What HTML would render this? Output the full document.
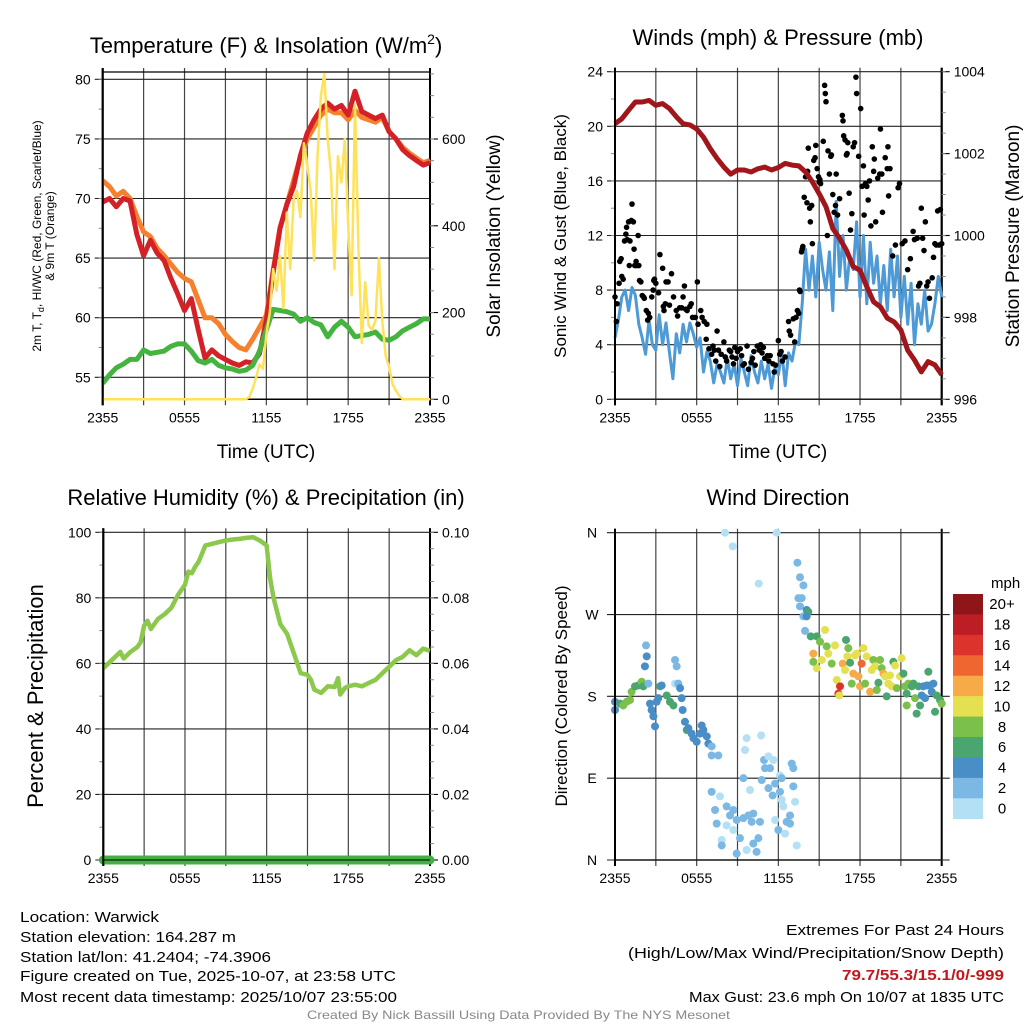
<!DOCTYPE html>
<html><head><meta charset="utf-8"><style>
html,body{margin:0;padding:0;background:#fff;}
svg{display:block;font-family:"Liberation Sans",sans-serif;}
</style></head><body>
<svg id="c" width="1024" height="1024" viewBox="0 0 1024 1024" xmlns="http://www.w3.org/2000/svg">
<g id="static" fill="#000">
<text x="266" y="53" font-size="22" text-anchor="middle">Temperature (F) &amp; Insolation (W/m<tspan font-size="14" dy="-9">2</tspan><tspan dy="9">)</tspan></text>
<text x="778" y="45" font-size="22" text-anchor="middle">Winds (mph) &amp; Pressure (mb)</text>
<text x="266" y="505" font-size="22" text-anchor="middle">Relative Humidity (%) &amp; Precipitation (in)</text>
<text x="778" y="505" font-size="22" text-anchor="middle">Wind Direction</text>
<text x="266" y="458" font-size="19" text-anchor="middle">Time (UTC)</text>
<text x="778" y="458" font-size="19" text-anchor="middle">Time (UTC)</text>
<text transform="translate(41,236) rotate(-90)" font-size="12" text-anchor="middle">2m T, T<tspan font-size="9" dy="3">d</tspan><tspan dy="-3">, HI/WC (Red, Green, Scarlet/Blue)</tspan></text>
<text transform="translate(54,236) rotate(-90)" font-size="12" text-anchor="middle">&amp; 9m T (Orange)</text>
<text transform="translate(500,236) rotate(-90)" font-size="19" text-anchor="middle">Solar Insolation (Yellow)</text>
<text transform="translate(566,236) rotate(-90)" font-size="17" text-anchor="middle">Sonic Wind &amp; Gust (Blue, Black)</text>
<text transform="translate(1019,236) rotate(-90)" font-size="19" text-anchor="middle">Station Pressure (Maroon)</text>
<text transform="translate(43,696) rotate(-90)" font-size="22" text-anchor="middle">Percent &amp; Precipitation</text>
<text transform="translate(567,696) rotate(-90)" font-size="17" text-anchor="middle">Direction (Colored By Speed)</text>
<text x="991" y="588" font-size="15">mph</text>
<g font-size="15">
<text x="20" y="922" textLength="139" lengthAdjust="spacingAndGlyphs">Location: Warwick</text>
<text x="20" y="942" textLength="216" lengthAdjust="spacingAndGlyphs">Station elevation: 164.287 m</text>
<text x="20" y="962" textLength="251" lengthAdjust="spacingAndGlyphs">Station lat/lon: 41.2404; -74.3906</text>
<text x="20" y="981" textLength="376" lengthAdjust="spacingAndGlyphs">Figure created on Tue, 2025-10-07, at 23:58 UTC</text>
<text x="20" y="1002" textLength="377" lengthAdjust="spacingAndGlyphs">Most recent data timestamp: 2025/10/07 23:55:00</text>
<text x="786" y="935" textLength="218" lengthAdjust="spacingAndGlyphs">Extremes For Past 24 Hours</text>
<text x="628" y="958" textLength="376" lengthAdjust="spacingAndGlyphs">(High/Low/Max Wind/Precipitation/Snow Depth)</text>
<text x="842" y="980" textLength="162" lengthAdjust="spacingAndGlyphs" fill="#c4161c" font-weight="bold">79.7/55.3/15.1/0/-999</text>
<text x="689" y="1002" textLength="315" lengthAdjust="spacingAndGlyphs">Max Gust: 23.6 mph On 10/07 at 1835 UTC</text>
</g>
<text x="307" y="1019" font-size="12" fill="#888" textLength="423" lengthAdjust="spacingAndGlyphs">Created By Nick Bassill Using Data Provided By The NYS Mesonet</text>
</g>
</svg>
<script>
// ---------- data ----------
const timeLabels = ["2355","0555","1155","1755","2355"];
const tempHours = [0,0.5,1,1.5,2,2.5,3,3.5,4,4.5,5,5.5,6,6.5,7,7.5,8,8.5,9,9.5,10,10.5,11,11.5,12,12.5,13,13.5,14,14.5,15,15.5,16,16.5,17,17.5,18,18.5,19,19.5,20,20.5,21,21.5,22,22.5,23,23.5,24];
const temp2m = [69.7,70,69.3,70,69.8,67,65.2,66.5,65.4,64.8,63.3,62,60.6,61.6,59,56.6,57.3,56.8,56.5,56.2,56,56.3,56.2,57,59.8,63.8,67.5,69.5,71,73.6,75.5,76.6,77.5,78,77.5,77.8,77,79,77.3,77,76.7,77,75.6,75,74.1,73.6,73.2,72.8,73];
const temp9m = [71.5,71,70.2,70.6,70,68.5,67.2,66.8,65.8,65.2,64.5,63.8,63.3,63,61.5,60,60,59.5,58.6,58,57.5,57.3,58.2,59.2,60.2,64,67.5,69.5,71.5,73.5,75,76,77,77.5,77.2,77.2,76.6,77.4,76.8,76.6,76.4,76.8,75.6,75,74.3,73.8,73.4,73,73.2];
const dewpoint = [54.5,55.2,55.8,56.1,56.5,56.5,57.3,57,57.1,57.2,57.6,57.8,57.8,57.2,56.4,56.2,56.5,56,55.8,55.7,55.5,55.6,56,57.2,59,60.7,60.6,60.5,60.3,59.7,60,59.6,59.4,58.4,59.2,59.7,59.2,58.4,58.5,58.6,58.8,58.2,58.1,58.4,58.9,59.2,59.5,59.9,59.9];
const solarHours = [0,10.5,10.75,11,11.25,11.5,11.75,12,12.25,12.5,12.75,13,13.25,13.5,13.75,14,14.25,14.5,14.75,15,15.25,15.5,15.75,16,16.25,16.5,16.75,17,17.25,17.5,17.75,18,18.25,18.5,18.75,19,19.25,19.5,19.75,20,20.25,20.5,20.75,21,21.25,21.5,21.75,22,24];
const solar = [0,0,5,25,50,80,70,150,200,300,250,330,210,430,300,460,480,420,590,540,480,320,560,700,750,600,520,300,560,500,600,400,240,680,350,130,270,170,160,180,325,180,100,75,35,20,8,0,0];
const pressure = [1002.73,1002.85,1003.06,1003.26,1003.26,1003.3,1003.18,1003.22,1003.1,1002.9,1002.73,1002.7,1002.6,1002.4,1002.12,1001.88,1001.67,1001.5,1001.6,1001.6,1001.55,1001.63,1001.67,1001.6,1001.66,1001.76,1001.72,1001.7,1001.55,1001.31,1001.02,1000.7,1000.17,999.93,999.64,999.24,999.15,998.75,998.38,998.26,997.98,997.89,997.69,997.2,996.96,996.67,996.92,996.84,996.6];
const sustained = [4.5,5.8,7.5,8.0,6.5,8.2,7.6,5.5,4.5,
3.3,5.8,4.0,3.6,6.2,4.0,5.6,3.4,
1.5,4.8,3.4,5.5,4.2,5.6,4.8,3.8,
4.5,2.0,3.5,2.8,1.2,2.6,2.0,1.2,
3.0,1.5,2.6,1.0,3.0,2.0,1.0,3.2,
2.0,1.2,2.8,1.5,2.6,0.8,2.3,1.8,
3.5,1.0,3.4,2.8,4.2,4.0,7.0,11.0,
8.0,10.5,7.5,11.5,9.5,8.0,10.8,6.5,
14.5,9.0,12.0,8.0,10.5,9.5,13.0,7.5,
12.0,7.0,11.5,8.5,10.5,7.0,9.8,6.5,
11.0,7.5,10.5,6.0,9.0,5.5,8.5,4.0,
7.0,5.5,8.0,5.0,5.5,7.0,9.0,7.5];
const gustHours = [0,0.1,0.15,0.3,0.35,0.45,0.5,0.6,0.7,0.8,0.85,0.9,1,1.1,1.05,1.2,1.25,1.35,1.4,1.45,1.55,1.6,1.7,1.75,1.8,1.9,2,2.1,2.15,2.3,2.4,2.45,2.55,2.7,2.8,2.85,2.9,3,3.2,3.3,3.5,3.55,3.6,3.7,3.75,3.9,4,4.15,4.3,4.5,4.6,4.75,4.9,5,5.1,5.2,5.3,5.5,5.6,5.7,5.9,6.05,6.1,6.3,6.4,6.55,6.7,6.75,6.9,7.1,7.2,7.3,7.4,7.5,7.6,7.7,7.8,8,8.1,8.2,8.4,8.5,8.6,8.7,8.8,8.9,9,9.2,9.3,9.4,9.5,9.7,9.8,10,10.1,10.2,10.3,10.45,10.6,10.7,10.8,10.9,11,11.2,11.3,11.4,11.6,11.7,11.8,12,12.1,12.2,12.3,12.5,12.75,12.8,12.9,13.1,13.2,13.3,13.4,13.5,13.55,13.6,13.7,13.75,13.8,13.9,14,14.1,14.15,14.2,14.3,14.35,14.45,14.5,14.6,14.7,14.75,14.85,14.95,15,15.05,15.1,15.3,15.4,15.5,15.45,15.6,15.65,15.75,15.85,15.9,16,16.1,16.2,16.25,16.35,16.5,16.7,16.75,16.8,16.9,17,17.05,17.1,17.2,17.3,17.4,17.5,17.6,17.7,17.75,17.9,18.05,18.15,18.25,18.3,18.4,18.5,18.6,18.7,18.8,18.9,19,19.05,19.15,19.3,19.45,19.5,19.6,19.65,19.85,20,20.05,20.1,20.2,20.4,20.6,20.8,20.9,21.1,21.3,21.5,21.7,21.9,22,22.2,22.3,22.4,22.5,22.6,22.7,22.8,22.9,23,23.1,23.3,23.4,23.5,23.6,23.7,23.8,23.9,24];
const gustMph = [7.5,5.7,7,8.5,10.1,10.3,9,8.8,11.6,12.1,12.6,11.7,13,11.6,9.8,13.1,14.3,13,11,9.8,10.1,9.8,12,9.8,8.7,8.6,7.6,7.5,7.4,6.5,5.8,6.3,6,7.5,8,8.7,8.8,8.5,7.8,10.6,9.6,6.8,6.5,7,8.6,8.6,6.9,9.2,7.5,6.5,6.1,6.7,6.7,7.5,8.3,6.6,6.5,6.8,7,6,6,8.6,5.5,6.5,6,5.7,4.4,5.5,3.7,3.3,3.9,3.6,2.8,5,3.6,2.4,3.3,4.2,3.1,2.8,3.6,3.5,3.1,2.6,3.8,3,3.5,3.7,3.2,2.5,2.6,3.9,2.2,2.7,3,3.5,2.5,3.9,3.6,4,3.4,3.8,3,3.2,2.8,3.2,2.6,2,2.5,4.3,3.3,3.5,2.8,3.1,5.7,5,4.7,5.9,4.2,6,6.5,6.3,8,7.9,10.8,11,11.2,14.8,16.3,14.4,16.7,18.4,14,13,14.2,11.4,17.5,17.7,18.6,16.9,16.3,15.9,16.1,15.8,18.9,23,21.8,22.4,12,18.2,16.5,17.8,17.9,15,13.7,14.2,16.5,13.5,14.7,20.8,20.4,19.3,19,17.9,18,18.8,15.1,12.4,13.6,18.5,18.8,23.6,22.4,17.8,21.3,15.6,17.1,13.5,15.8,15.6,14.6,16,12.7,18.5,16.7,17.6,13,16.2,16.5,19.8,16.5,13.7,17.7,16.9,18.5,14.9,16.9,10.5,11.3,15.5,15.8,11.4,11.6,9.5,10.3,12.3,11.7,11.8,8.3,8.5,14,11.8,10.9,13,8.3,8.6,7.4,8.9,10.4,11.4,11.3,13.8,11.3,13.9,11.4];
const rhHours = [0,0.5,1,1.25,1.5,2,2.5,2.75,3,3.25,3.5,4,4.5,5,5.5,6,6.25,6.5,6.75,7,7.25,7.5,8,8.5,9,9.5,10,10.5,11,11.5,12,12.25,12.5,12.75,13,13.5,14,14.25,14.5,15,15.25,15.5,16,16.5,17,17.25,17.4,17.75,18,18.5,19,19.5,20,20.5,21,21.5,22,22.5,23,23.5,24];
const rh = [58.5,60.5,62.5,63.5,61.5,63.5,65,66.5,71.5,73,70.5,73.5,75,77,81,84,88,87.5,89.5,91,93.5,96,96.5,97,97.5,97.8,98,98.3,98.5,97.5,96,86,80,76,72,69,63,60,57,56.5,55,52,51,53,52.8,55.5,50.5,52.5,53,53.5,53,54,55,57,59,61,62,64,62.5,64.5,63.8];
const precip = [0,0];
// wind direction observations: [hour, direction deg, speed mph]
const windObs = [[0,165,5],[0,174,5],[0.37,172,7],[0.6,170,9],[0.86,174,9],[1.1,176,9],[1.22,185,9],[1.47,191,7],[1.71,192,7],[1.96,196,9],[2.08,191,7],[2.28,236,3],[2.33,224,5],[2.2,213,5],[2.45,194,3],[2.57,172,5],[2.69,165,5],[2.82,158,5],[2.94,147,5],[3.06,174,5],[3.18,178,5],[3.31,191,7],[3.43,192,5],[3.8,181,7],[4.04,174,7],[4.29,170,7],[4.41,220,3],[4.53,213,3],[4.41,194,1],[4.65,194,3],[4.78,189,5],[4.9,178,5],[4.97,165,5],[5.14,152,5],[5.27,143,7],[5.39,145,5],[5.63,139,5],[5.76,134,5],[6,130,5],[6.25,139,5],[6.37,148,5],[6.49,143,5],[6.74,136,5],[6.86,128,5],[7.1,125,3],[7.59,115,3],[7.1,115,3],[8.08,360,1],[8.65,345,1],[9.67,134,1],[9.55,121,1],[9.43,90,3],[7.1,75,3],[7.71,70,1],[7.35,55,3],[7.47,40,3],[8.2,59,3],[8.45,49,3],[8.69,55,3],[8.94,44,3],[8.2,38,1],[8.69,33,1],[9.18,24,3],[7.84,22,1],[7.84,16,3],[8.94,7,3],[9.67,11,1],[10.4,9,3],[10.16,18,3],[10.53,24,3],[9.43,46,3],[9.8,49,3],[10.16,51,3],[10.04,42,3],[10.65,42,3],[9.92,77,1],[10.56,304,1],[10.73,137,1],[10.95,110,3],[11.27,114,1],[11.02,101,3],[11.39,101,3],[11.63,110,1],[10.78,88,3],[11.27,79,3],[11.58,71,3],[11.76,84,3],[12.12,93,1],[12.25,90,3],[11.88,360,1],[12.12,75,3],[12.25,66,1],[12.37,59,1],[11.76,44,1],[12,33,3],[12.49,29,1],[12.61,42,3],[12.86,49,3],[12.86,40,3],[12.98,106,3],[13.1,101,3],[13.23,64,1],[13.1,81,3],[13.35,16,1],[13.4,327,3],[13.59,311,3],[13.84,302,3],[13.47,288,3],[13.72,288,3],[13.59,279,3],[13.84,268,3],[14.08,275,5],[14.2,273,7],[14.08,268,5],[13.96,252,3],[14.38,246,7],[14.57,227,13],[14.82,246,7],[15.06,240,9],[15.43,253,11],[15.19,220,11],[15.55,235,9],[15.67,227,11],[15.92,216,9],[16.16,236,11],[14.82,211,11],[14.57,218,9],[16.29,198,11],[16.53,191,17],[16.41,183,17],[16.48,181,11],[16.73,216,13],[16.97,242,7],[17.14,233,9],[17.07,224,11],[16.9,209,11],[17.27,217,7],[17.39,194,9],[17.51,205,13],[17.63,225,11],[17.76,227,11],[17.88,202,13],[18,191,13],[18.12,216,15],[18.25,233,11],[18.37,194,9],[18.49,224,11],[18.74,185,13],[18.86,209,11],[18.98,220,9],[19.1,213,11],[19.23,187,9],[19.35,195,7],[19.47,220,9],[19.59,211,9],[19.72,205,13],[19.84,202,11],[19.96,180,7],[20.08,194,11],[20.2,203,11],[20.33,191,11],[20.45,218,7],[20.57,214,11],[20.7,189,9],[20.94,202,11],[21.06,222,11],[21.19,205,7],[21.31,191,9],[21.43,183,7],[21.55,194,9],[21.43,170,9],[21.8,191,7],[21.92,194,7],[22.04,178,9],[22.16,161,7],[22.29,191,7],[22.41,170,7],[22.53,181,5],[22.65,191,5],[22.78,178,5],[22.9,192,5],[23.02,207,7],[23.14,192,5],[23.27,185,5],[23.39,194,5],[23.51,163,7],[23.63,181,7],[23.88,176,7],[24,172,9]];
const speedLabels = ["20+","18","16","14","12","10","8","6","4","2","0"];
const speedColors = ["#8e1518","#bd1e25","#dc342c","#ef6630","#f7ab48","#e5e04f","#7cc04c","#4aa56e","#4a8ec8","#7bb8e3","#b3e0f5"];
const tempTicks = [55,60,65,70,75,80];
const solarTicks = [0,200,400,600];
const windTicks = [0,4,8,12,16,20,24];
const pressTicks = [996,998,1000,1002,1004];
const rhTicks = [0,20,40,60,80,100];
const precipTicks = ["0.00","0.02","0.04","0.06","0.08","0.10"];
const dirTicks = ["N","E","S","W","N"];

// ---------- helpers ----------
const NS = "http://www.w3.org/2000/svg";
const svg = document.getElementById('c');
function mk(tag, attrs, parent) {
  const e = document.createElementNS(NS, tag);
  for (const k in attrs) e.setAttribute(k, attrs[k]);
  (parent || svg).appendChild(e);
  return e;
}
function linePath(xs, ys, fx, fy) {
  let d = "";
  for (let i = 0; i < Math.min(xs.length, ys.length); i++) d += (i ? "L" : "M") + fx(xs[i]).toFixed(1) + "," + fy(ys[i]).toFixed(1);
  return d;
}
const panels = {
  temp: {x0:102.7, x1:430, y0:72, y1:399.3},
  wind: {x0:615, x1:941.7, y0:71.7, y1:399.3},
  rh: {x0:103.3, x1:430, y0:532.3, y1:860},
  dir: {x0:615, x1:941.7, y0:532.7, y1:860}
};
function xScale(p) { return h => p.x0 + h / 24 * (p.x1 - p.x0); }
function lin(d0, d1, r0, r1) { return v => r0 + (v - d0) / (d1 - d0) * (r1 - r0); }

function frame(p, name) {
  const g = mk('g', {});
  
  
  const xs = xScale(p);
  for (let h = 0; h <= 24; h += 3) {
    const x = xs(h);
    const l = mk('line', {x1:x, x2:x, y1:p.y0 - 4, y2:p.y1 + 6, stroke: (h===0||h===24)?'#000':'#444', 'stroke-width': (h===0||h===24)?2:1.2}, g);
    
    
  }
  const b = mk('line', {x1:p.x0, x2:p.x1, y1:p.y1, y2:p.y1, stroke:'#000', 'stroke-width':1.5}, g);
  
  
  for (let i = 0; i < timeLabels.length; i++) {
    const t = mk('text', {x: xs(i*6), y: p.y1 + 23, 'font-size':14, 'text-anchor':'middle'}, g);
    t.textContent = timeLabels[i];
    
    
  }
  return g;
}
function leftAxis(p, ticks, fy, minorStep, lo, hi, labels, name) {
  const g = mk('g', {});
  
  
  ticks.forEach((v, i) => {
    const y = fy(v);
    const l = mk('line', {x1:p.x0 - 8, x2:p.x1, y1:y, y2:y, stroke:'#222', 'stroke-width':1.1}, g);
    
    
    const t = mk('text', {x:p.x0 - 12, y:y + 5, 'font-size':14, 'text-anchor':'end'}, g);
    t.textContent = labels ? labels[i] : v;
    
    
  });
  for (let v = lo; v <= hi + 1e-9; v += minorStep) {
    const y = fy(v);
    if (y < p.y0 - 0.5 || y > p.y1 + 0.5) continue;
    mk('line', {x1:p.x0 - 4, x2:p.x0, y1:y, y2:y, stroke:'#888', 'stroke-width':1}, g);
  }
  return g;
}
function rightAxis(p, ticks, fy, minorStep, lo, hi, labels, name) {
  const g = mk('g', {});
  
  
  const ax = mk('line', {x1:p.x1, x2:p.x1, y1:p.y0 - 4, y2:p.y1 + 6, stroke:'#000', 'stroke-width':2}, g);
  
  
  ticks.forEach((v, i) => {
    const y = fy(v);
    mk('line', {x1:p.x1, x2:p.x1 + 8, y1:y, y2:y, stroke:'#000', 'stroke-width':1.1}, g);
    const t = mk('text', {x:p.x1 + 12, y:y + 5, 'font-size':14}, g);
    t.textContent = labels ? labels[i] : v;
    
    
  });
  for (let v = lo; v <= hi + 1e-9; v += minorStep) {
    const y = fy(v);
    if (y < p.y0 - 0.5 || y > p.y1 + 0.5) continue;
    mk('line', {x1:p.x1, x2:p.x1 + 4, y1:y, y2:y, stroke:'#888', 'stroke-width':1}, g);
  }
  return g;
}

// ---------- panel 1: temperature ----------
(function(){
  const p = panels.temp, xs = xScale(p);
  const ty = lin(55, 80, 377.3, 79.3);
  const sy = lin(0, 600, 399.3, 139);
  frame(p, 'temp');
  leftAxis(p, tempTicks, ty, 2.5, 52.5, 82.5, null, 'temp-left-axis');
  rightAxis(p, solarTicks, sy, 50, 0, 750, null, 'solar-right-axis');
  const top = mk('line', {x1:p.x0, x2:p.x1, y1:p.y0, y2:p.y0, stroke:'#000', 'stroke-width':1.2});
  
  
  const o = mk('path', {d: linePath(tempHours, temp9m, xs, ty), fill:'none', stroke:'#f5812e', 'stroke-width':5, 'stroke-linejoin':'round'});
  
  
  const r = mk('path', {d: linePath(tempHours, temp2m, xs, ty), fill:'none', stroke:'#d42127', 'stroke-width':5, 'stroke-linejoin':'round'});
  
  
  const gr = mk('path', {d: linePath(tempHours, dewpoint, xs, ty), fill:'none', stroke:'#44b33f', 'stroke-width':5, 'stroke-linejoin':'round'});
  
  
  const y = mk('path', {d: linePath(solarHours, solar, xs, sy), fill:'none', stroke:'#fde25a', 'stroke-width':2.5, 'stroke-linejoin':'round'});
  
  
  const lax = mk('line', {x1:p.x0, x2:p.x0, y1:p.y0 - 4, y2:p.y1 + 6, stroke:'#000', 'stroke-width':2});
  
  
})();

// ---------- panel 2: wind ----------
(function(){
  const p = panels.wind, xs = xScale(p);
  const wy = lin(0, 24, p.y1, p.y0);
  const py = lin(996, 1004, p.y1, p.y0);
  frame(p, 'wind');
  leftAxis(p, windTicks, wy, 2, 0, 24, null, 'wind-left-axis');
  rightAxis(p, pressTicks, py, 0.5, 996, 1004, null, 'pressure-right-axis');
  const b = mk('path', {d: linePath(sustained.map((v,i)=>i*0.25), sustained, xs, wy), fill:'none', stroke:'#4d9ad6', 'stroke-width':3, 'stroke-linejoin':'round'});
  
  
  const g = mk('g', {fill:'#000'});
  
  
  for (let i = 0; i < Math.min(gustHours.length, gustMph.length); i++) {
    const c = mk('circle', {cx: xs(gustHours[i]), cy: wy(gustMph[i]), r: 2.8}, g);
    
    
  }
  const m = mk('path', {d: linePath(pressure.map((v,i)=>i*0.5), pressure, xs, py), fill:'none', stroke:'#a0161b', 'stroke-width':5, 'stroke-linejoin':'round'});
  
  
  const lax = mk('line', {x1:p.x0, x2:p.x0, y1:p.y0 - 4, y2:p.y1 + 6, stroke:'#000', 'stroke-width':2});
  
  
})();

// ---------- panel 3: RH ----------
(function(){
  const p = panels.rh, xs = xScale(p);
  const ry = lin(0, 100, p.y1, p.y0);
  frame(p, 'rh');
  leftAxis(p, rhTicks, ry, 10, 0, 100, null, 'rh-left-axis');
  rightAxis(p, rhTicks, ry, 5, 0, 100, precipTicks, 'precip-right-axis');
  const l = mk('path', {d: linePath(rhHours, rh, xs, ry), fill:'none', stroke:'#8cc84b', 'stroke-width':4.5, 'stroke-linejoin':'round'});
  
  
  const pr = mk('path', {d: linePath([0,24], precip, xs, v => ry(v*1000)), fill:'none', stroke:'#44b044', 'stroke-width':9, 'stroke-linecap':'round'});
  
  
  const bl = mk('line', {x1:p.x0, x2:p.x1, y1:p.y1, y2:p.y1, stroke:'#000', 'stroke-width':1});
  
  
  const lax = mk('line', {x1:p.x0, x2:p.x0, y1:p.y0 - 4, y2:p.y1 + 6, stroke:'#000', 'stroke-width':2});
  
  
})();

// ---------- panel 4: wind direction ----------
(function(){
  const p = panels.dir, xs = xScale(p);
  const dy = lin(0, 360, p.y1, p.y0);
  frame(p, 'dir');
  const ax = mk('g', {});
  
  
  dirTicks.forEach((lab, i) => {
    const y = dy(i * 90);
    mk('line', {x1:p.x0 - 8, x2:p.x1 + 8, y1:y, y2:y, stroke:'#222', 'stroke-width':1.1}, ax);
    const t = mk('text', {x:p.x0 - 23, y:y + 5, 'font-size':14, 'text-anchor':'middle'}, ax);
    t.textContent = lab;
    
    
  });
  const g = mk('g', {});
  
  
  windObs.forEach(o => {
    const bin = Math.min(10, Math.floor(o[2] / 2));
    const c = mk('circle', {cx: xs(o[0]), cy: dy(o[1]), r: 4, fill: speedColors[10 - bin]}, g);
    
    
  });
  const lax = mk('line', {x1:p.x0, x2:p.x0, y1:p.y0 - 4, y2:p.y1 + 6, stroke:'#000', 'stroke-width':2});
  
  
  // colorbar
  const cb = mk('g', {});
  
  
  const top = 594, bh = 20.43;
  speedLabels.forEach((lab, i) => {
    const r = mk('rect', {x:953, y: top + i*bh, width:30, height: bh + 0.3, fill: speedColors[i]}, cb);
    
    
    const t = mk('text', {x:1002, y: top + i*bh + bh/2 + 5, 'font-size':15, 'text-anchor':'middle'}, cb);
    t.textContent = lab;
    
    
  });
})();
</script>
</body></html>
